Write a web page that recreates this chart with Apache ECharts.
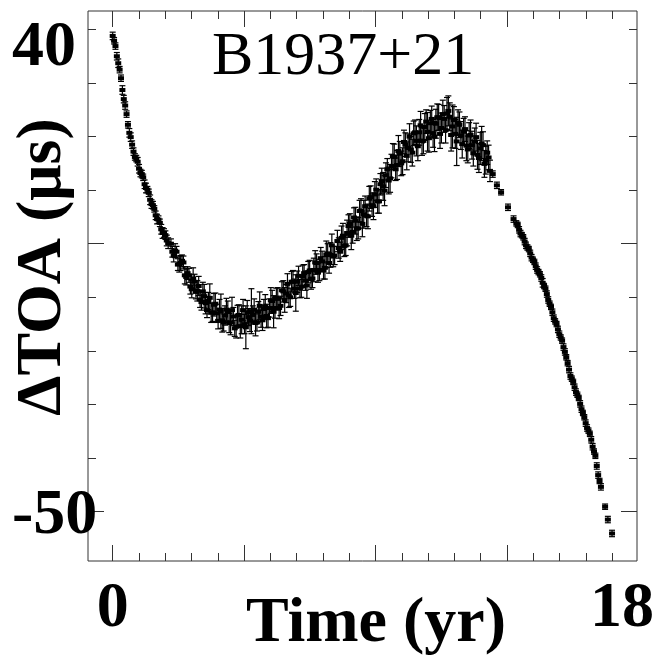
<!DOCTYPE html>
<html>
<head>
<meta charset="utf-8">
<script src="https://cdn.jsdelivr.net/npm/echarts@6/dist/echarts.min.js"></script>
<style>
html,body{margin:0;padding:0;background:#fff;}
#main{width:652px;height:660px;}
</style>
</head>
<body>
<div id="main"></div>
<script>
// [time (yr), delta TOA (us), error (us)]
var early = [
	[0.0,38.8,0.7],[0.05,37.9,0.6],[0.1,36.9,0.6],[0.15,35.0,0.7],[0.2,33.7,0.8],[0.25,32.5,0.6],
	[0.3,30.9,0.6],[0.35,28.7,0.8],[0.4,27.0,0.7],[0.45,25.8,0.7],[0.5,24.2,0.6],[0.55,22.2,0.6],
	[0.6,20.7,0.8],[0.65,19.9,0.8],[0.7,18.5,0.7],[0.75,17.2,0.7],[0.8,16.2,0.6],[0.85,15.9,0.6],
	[0.9,15.3,0.8],[0.95,14.0,0.8],[1.0,13.2,0.7],[1.05,13.0,0.7],[1.1,12.4,0.6],[1.15,11.1,0.8],
	[1.2,10.4,0.9],[1.25,10.1,0.6],[1.3,9.5,0.7],[1.35,8.2,0.9],[1.4,7.4,0.8],[1.45,7.2,0.7],
	[1.5,6.5,0.6],[1.55,5.3,0.8],[1.6,4.6,0.9],[1.65,4.5,0.7],[1.7,3.9,0.7],[1.75,2.7,0.9],
	[1.8,2.0,1.0],[1.85,2.0,0.8],[1.9,1.6,0.8],[1.95,0.6,1.0],[2.0,0.1,1.0]
];
var trough = [
	[2.1,0.0,0.9],[2.2,-2.2,1.2],[2.3,-1.5,1.0],[2.4,-3.8,1.5],[2.5,-3.2,1.1],[2.6,-5.9,1.6],
	[2.7,-5.5,1.2],[2.8,-8.0,1.4],[2.9,-6.5,2.0],[3.0,-9.0,1.3],[3.1,-7.9,1.8],[3.2,-10.9,1.5],
	[3.3,-9.8,2.2],[3.4,-12.4,1.4],[3.5,-10.1,2.6],[3.6,-12.8,1.7],[3.7,-11.2,2.0],[3.8,-14.4,1.5],
	[3.9,-12.6,3.2],[4.0,-14.7,1.6],[4.1,-12.3,2.1],[4.2,-14.8,1.8],[4.3,-12.4,2.4],[4.4,-15.8,1.5],
	[4.5,-13.4,1.9],[4.6,-15.4,2.2],[4.7,-12.4,2.0],[4.8,-15.6,4.0],[4.9,-13.7,1.6],[5.0,-12.6,4.2],
	[5.1,-12.3,2.0],[5.2,-14.7,1.6],[5.3,-11.6,2.6],[5.4,-14.3,1.9],[5.5,-11.7,2.2],[5.6,-13.9,1.7],
	[5.7,-10.6,2.4],[5.8,-12.7,3.0],[5.9,-10.1,1.8],[6.0,-12.0,2.0],[6.1,-8.7,1.6],[6.2,-10.5,2.3],
	[6.3,-7.5,1.9],[6.4,-10.0,1.7],[6.5,-7.1,2.1],[6.6,-9.2,3.4],[6.7,-6.0,1.8],[6.8,-8.0,2.0],
	[6.9,-5.5,1.6],[7.0,-7.8,2.4],[7.1,-5.0,1.9],[7.2,-6.5,1.7],[7.3,-3.5,2.2],[7.4,-5.4,1.8],
	[7.5,-2.7,2.0],[7.6,-5.0,1.6],[7.7,-2.0,2.5],[7.8,-3.6,1.9],[7.9,-0.3,2.1],[8.0,-2.2,1.7]
];
var trough2 = [
	[2.15,-1.5,1.0],[2.25,-1.3,1.3],[2.35,-3.9,1.1],[2.45,-3.6,1.4],[2.55,-3.5,1.2],[2.65,-6.2,1.5],
	[2.75,-5.9,1.3],[2.85,-8.5,1.6],[2.95,-7.1,1.4],[3.05,-8.8,1.9],[3.15,-10.4,1.5],[3.25,-8.9,1.7],
	[3.35,-11.1,2.0],[3.45,-10.7,1.6],[3.55,-12.9,1.8],[3.65,-11.4,2.1],[3.75,-13.0,1.7],[3.85,-12.3,1.9],
	[3.95,-14.3,2.2],[4.05,-13.4,1.8],[4.15,-12.7,2.0],[4.25,-14.7,2.3],[4.35,-13.6,1.7],[4.45,-15.5,2.1],
	[4.55,-13.3,1.9],[4.65,-14.2,2.6],[4.75,-15.0,1.8],[4.85,-12.8,2.2],[4.95,-14.4,2.0],[5.05,-13.3,1.7],
	[5.15,-14.8,2.4],[5.25,-12.7,1.9],[5.35,-13.6,2.0],[5.45,-12.2,1.8],[5.55,-13.5,2.2],[5.65,-12.0,1.7],
	[5.75,-10.7,2.0],[5.85,-12.0,1.9],[5.95,-10.3,2.1],[6.05,-11.6,1.8],[6.15,-8.9,2.0],[6.25,-9.3,1.7],
	[6.35,-9.7,2.2],[6.45,-7.1,1.9],[6.55,-8.4,1.8],[6.65,-7.1,2.0],[6.75,-8.4,1.7],[6.85,-6.1,2.1],
	[6.95,-6.9,1.8],[7.05,-5.3,2.0],[7.15,-6.6,1.9],[7.25,-4.9,2.2],[7.35,-3.6,1.7],[7.45,-4.9,2.0],
	[7.55,-3.3,1.9],[7.65,-4.5,2.1],[7.75,-1.8,1.8],[7.85,-2.1,2.3],[7.95,-2.4,1.9]
];
var peak = [
	[8.1,0.5,2.0],[8.2,-1.5,1.8],[8.3,1.5,2.3],[8.4,-0.3,1.9],[8.5,3.3,2.1],[8.6,1.5,2.6],
	[8.7,4.9,1.8],[8.8,2.8,2.2],[8.9,6.1,2.0],[9.0,3.7,2.4],[9.1,7.0,1.9],[9.2,5.1,2.3],
	[9.3,8.7,2.1],[9.4,7.0,2.5],[9.5,10.1,2.0],[9.6,7.9,2.2],[9.7,11.7,2.4],[9.8,9.9,2.8],
	[9.9,13.9,2.0],[10.0,12.2,2.6],[10.1,16.3,2.4],[10.2,13.9,2.1],[10.3,17.3,2.9],[10.4,15.0,2.3],
	[10.5,19.0,2.2],[10.6,16.4,2.6],[10.7,20.0,2.4],[10.8,17.0,2.5],[10.9,20.8,2.3],[11.0,18.2,2.7],
	[11.1,22.1,2.6],[11.2,19.2,2.4],[11.3,22.8,2.2],[11.4,19.7,2.6],[11.5,23.3,2.4],[11.6,20.0,2.8],
	[11.7,23.6,2.5],[11.8,20.5,2.7],[11.9,24.2,2.6],[12.0,21.2,2.4],[12.1,24.8,2.8],[12.2,20.3,3.0],
	[12.3,23.1,2.5],[12.4,19.1,4.5],[12.5,22.2,2.4],[12.6,18.6,2.6],[12.7,21.4,2.3],[12.8,17.6,2.5],
	[12.9,20.3,2.8],[13.0,16.9,2.4],[13.1,19.9,2.6],[13.2,16.0,2.7],[13.3,18.7,3.2],[13.4,14.9,2.5],
	[13.5,17.0,2.2],[13.6,13.6,2.0]
];
var peak2 = [
	[8.15,-0.8,1.9],[8.25,1.1,2.2],[8.35,-0.4,2.0],[8.45,2.0,2.4],[8.55,3.7,1.9],[8.65,2.2,2.1],
	[8.75,4.3,2.5],[8.85,2.9,2.0],[8.95,6.2,2.2],[9.05,5.5,2.6],[9.15,5.2,2.0],[9.25,8.4,2.3],
	[9.35,7.2,2.1],[9.45,9.2,2.4],[9.55,7.9,2.2],[9.65,11.1,2.0],[9.75,10.7,2.6],[9.85,12.8,2.3],
	[9.95,11.8,2.5],[10.05,14.5,2.2],[10.15,16.2,2.4],[10.25,14.7,2.7],[10.35,16.8,2.3],[10.45,15.4,2.5],
	[10.55,18.5,2.2],[10.65,17.9,2.6],[10.75,17.6,2.4],[10.85,20.6,2.3],[10.95,19.2,2.8],[11.05,20.8,2.4],
	[11.15,19.1,2.6],[11.25,21.8,2.5],[11.35,20.9,3.6],[11.45,22.5,2.4],[11.55,20.6,2.6],[11.65,22.4,2.7],
	[11.75,23.6,2.4],[11.85,21.6,2.8],[11.95,23.3,2.5],[12.05,24.3,3.0],[12.15,23.7,2.6],[12.25,21.9,4.0],
	[12.35,20.5,2.7],[12.45,22.6,2.4],[12.55,20.2,2.6],[12.65,20.9,2.5],[12.75,18.3,2.8],[12.85,20.2,2.4],
	[12.95,18.4,2.6],[13.05,19.1,2.5],[13.15,16.6,2.7],[13.25,17.8,3.0],[13.35,18.4,2.5],[13.45,15.6,2.6],
	[13.55,16.1,2.3]
];
var late = [
	[13.7,13.0,0.6],[13.85,10.9,0.6],[14.0,9.6,0.5],[14.25,6.8,0.6],[14.45,4.6,0.6],[14.55,3.8,0.5],
	[14.6,3.5,0.5],[14.7,1.9,0.6],[14.8,1.2,0.5],
	[14.9,-0.3,0.6],[15.0,-1.0,0.5],[15.1,-2.6,0.6],[15.2,-3.4,0.5],[15.3,-4.9,0.6],[15.4,-5.7,0.5],
	[15.5,-7.3,0.8],[15.6,-8.4,0.5],[15.7,-10.5,0.6],[15.8,-11.8,0.5],[15.9,-13.9,0.6],[16.0,-15.0,0.5],
	[16.1,-16.9,0.6],[16.2,-18.1,0.5],[16.3,-20.2,0.6],[16.4,-22.3,0.5],[16.5,-24.7,0.6],[16.6,-25.8,0.5],
	[16.7,-27.7,0.6],[16.8,-28.8,0.5],[16.9,-30.9,0.6],[17.0,-32.4,0.5],[17.1,-34.4,0.6],[17.2,-35.5,0.5],
	[17.3,-37.9,0.6],[17.4,-39.6,0.5],[17.45,-41.5,0.6],[17.5,-43.2,0.6],[17.55,-44.3,0.5],[17.6,-45.4,0.6],
	[17.75,-49.1,0.5],[17.85,-51.5,0.6],[18.0,-54.1,0.6]
];
var late2 = [
	[14.65,2.6,0.6],[14.75,1.6,0.5],[14.85,0.4,0.6],
	[14.95,-0.7,0.5],[15.05,-1.8,0.6],[15.15,-3.0,0.5],[15.25,-4.2,0.6],[15.35,-5.3,0.5],[15.45,-6.4,0.6],
	[15.55,-7.9,0.5],[15.65,-9.4,0.6],[15.75,-11.2,0.5],[15.85,-12.8,0.6],[15.95,-14.5,0.5],[16.05,-16.0,0.6],
	[16.15,-17.5,0.5],[16.25,-19.3,0.6],[16.35,-21.2,0.5],[16.45,-23.5,0.6],[16.55,-25.2,0.5],[16.65,-26.8,0.6],
	[16.75,-28.2,0.5],[16.85,-29.9,0.6],[16.95,-31.6,0.5],[17.05,-33.5,0.6],[17.15,-34.9,0.5],[17.25,-36.6,0.6],
	[17.35,-38.8,0.5]
];

var majorX = [0, 4.737, 9.474, 14.211];
var minorX = [0.947, 1.895, 2.842, 3.789, 5.684, 6.632, 7.579, 8.526, 10.421, 11.368, 12.316, 13.263, 15.158, 16.105, 17.053, 18];
var majorY = [0, -50];
var minorY = [40, 30, 20, 10, -10, -20, -30, -40];
var labelsX = [0, 18];
var labelsY = [40, -50];

var FONT = 'Liberation Serif';
var X_MIN = -0.89, X_MAX = 18.9;
var Y_MIN = -59.24, Y_MAX = 43.45;

function xAxisOf(pos, ticks, len, withLabel){
	return {
		type:'value', position:pos, min:X_MIN, max:X_MAX,
		axisLine:{show:false, onZero:false}, splitLine:{show:false},
		axisTick:{show:true, inside:true, length:len, customValues:ticks, lineStyle:{color:'#333', width:1}},
		axisLabel:withLabel ? {
			show:true, customValues:labelsX, margin:16,
			formatter:function(v){ return v > 9 ? '{b|18}' : '{a|0}'; },
			rich:{
				a:{fontFamily:FONT, fontWeight:'bold', fontSize:64, color:'#000'},
				b:{fontFamily:FONT, fontWeight:'bold', fontSize:64, color:'#000', padding:[0,0,0,20]}
			}
		} : {show:false}
	};
}
function yAxisOf(pos, ticks, len, withLabel){
	return {
		type:'value', position:pos, min:Y_MIN, max:Y_MAX,
		axisLine:{show:false, onZero:false}, splitLine:{show:false},
		axisTick:{show:true, inside:true, length:len, customValues:ticks, lineStyle:{color:'#333', width:1}},
		axisLabel:withLabel ? {
			show:true, customValues:labelsY, margin:76, align:'left',
			formatter:function(v){ return v > 0 ? '{a|40}' : '{b|-50}'; },
			rich:{
				a:{fontFamily:FONT, fontWeight:'bold', fontSize:64, color:'#000', padding:[38,0,0,0]},
				b:{fontFamily:FONT, fontWeight:'bold', fontSize:64, color:'#000', padding:[10,0,0,0]}
			}
		} : {show:false}
	};
}

function drawBar(params, api){
	var t = api.value(0), v = api.value(1), e = api.value(2);
	var p = api.coord([t, v]);
	var hi = api.coord([t, v + e]);
	var lo = api.coord([t, v - e]);
	var st = {stroke:'#000', lineWidth:1.2};
	return {type:'group', children:[
		{type:'line', shape:{x1:p[0], y1:hi[1], x2:p[0], y2:lo[1]}, style:st},
		{type:'line', shape:{x1:p[0]-3, y1:hi[1], x2:p[0]+3, y2:hi[1]}, style:st},
		{type:'line', shape:{x1:p[0]-3, y1:lo[1], x2:p[0]+3, y2:lo[1]}, style:st},
		{type:'rect', shape:{x:p[0]-3, y:p[1]-2, width:6, height:4}, style:{fill:'#000'}}
	]};
}

var xMain = xAxisOf('bottom', majorX, 16, true);
xMain.name = 'Time (yr)';
xMain.nameLocation = 'middle';
xMain.nameGap = 31;
xMain.nameMoveOverlap = false;
xMain.nameTextStyle = {fontFamily:FONT, fontWeight:'bold', fontSize:64, color:'#000', padding:[0,0,0,27]};

var yMain = yAxisOf('left', majorY, 16, true);
yMain.name = 'ΔTOA (μs)';
yMain.nameLocation = 'middle';
yMain.nameGap = 13;
yMain.nameMoveOverlap = false;
yMain.nameTextStyle = {fontFamily:FONT, fontWeight:'bold', fontSize:64, color:'#000', padding:[0,0,0,38]};

var chart = echarts.init(document.getElementById('main'));
chart.setOption({
	animation:false,
	backgroundColor:'#fff',
	title:{
		text:'B1937+21', left:207, top:22,
		textStyle:{fontFamily:FONT, fontWeight:'normal', fontSize:62, color:'#000'}
	},
	grid:{left:88, right:15, top:11, bottom:99, containLabel:false, outerBoundsMode:'none',
		show:true, borderColor:'#333', borderWidth:1, backgroundColor:'transparent'},
	xAxis:[
		xMain,
		xAxisOf('bottom', minorX, 8, false),
		xAxisOf('top', majorX, 16, false),
		xAxisOf('top', minorX, 8, false)
	],
	yAxis:[
		yMain,
		yAxisOf('left', minorY, 8, false),
		yAxisOf('right', majorY, 16, false),
		yAxisOf('right', minorY, 8, false)
	],
	series:[{
		type:'custom',
		xAxisIndex:0, yAxisIndex:0,
		renderItem:drawBar,
		encode:{x:0, y:1},
		data:early.concat(trough, trough2, peak, peak2, late, late2)
	}]
});
</script>
</body>
</html>
